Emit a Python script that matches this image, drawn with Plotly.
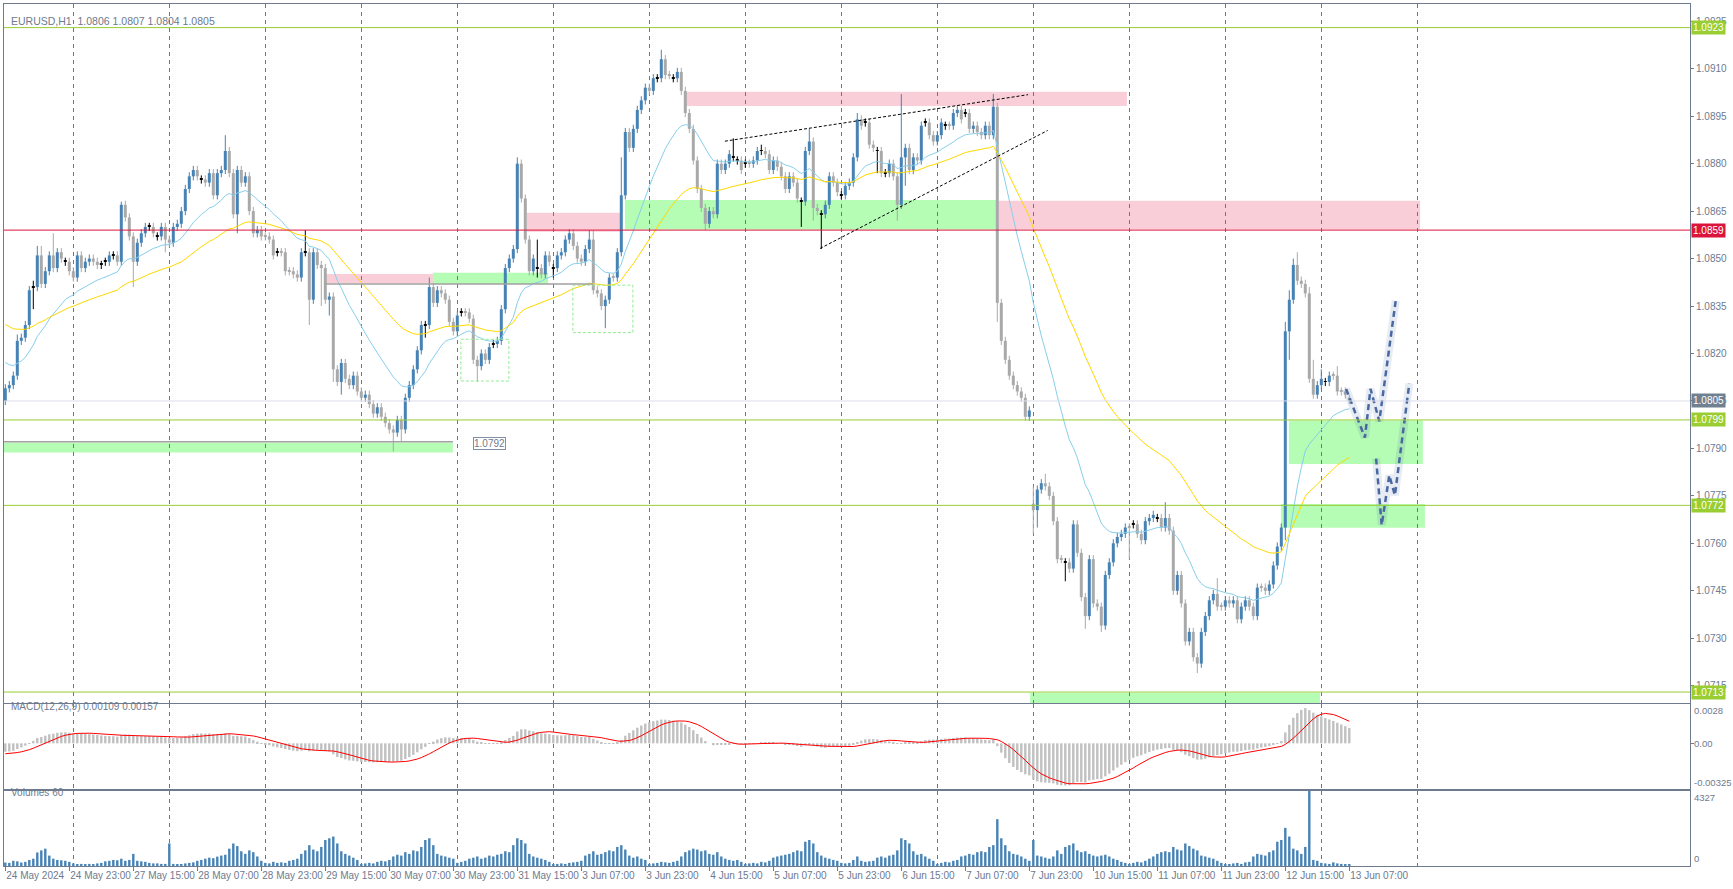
import plotly.graph_objects as go

BASE = 1.07
PIP = 0.0001

# ---------------- DATA (prices in pips above 1.0700) ----------------
close_pips = [
    109, 110, 113, 124, 125, 129, 140, 141, 151, 142,
    146, 151, 147, 152, 150, 149, 146, 144, 151, 147,
    149, 150, 149, 148, 148, 149, 151, 151, 149, 167,
    163, 157, 149, 155, 158, 160, 160, 158, 157, 160,
    156, 155, 160, 161, 165, 172, 176, 178, 176, 175,
    174, 177, 170, 177, 178, 184, 177, 164, 178, 174,
    176, 165, 158, 159, 157, 157, 156, 151, 152, 152,
    146, 146, 145, 144, 152, 152, 137, 152, 148, 147,
    137, 138, 115, 111, 117, 112, 110, 113, 108, 106,
    107, 104, 101, 103, 100, 98, 96, 95, 99, 96,
    106, 110, 115, 121, 129, 129, 141, 136, 140, 139,
    137, 130, 127, 132, 133, 133, 131, 118, 116, 120,
    118, 122, 123, 124, 134, 147, 150, 153, 180, 169,
    156, 146, 150, 147, 145, 151, 149, 147, 151, 152,
    156, 158, 154, 150, 149, 153, 156, 140, 139, 135,
    137, 144, 144, 152, 170, 190, 185, 191, 197, 200,
    204, 203, 207, 207, 213, 208, 208, 207, 209, 203,
    196, 191, 181, 172, 166, 161, 165, 164, 180, 178,
    180, 183, 182, 181, 178, 180, 180, 181, 184, 184,
    183, 178, 181, 179, 176, 172, 176, 174, 169, 168,
    184, 187, 166, 165, 164, 167, 176, 174, 171, 170,
    173, 174, 182, 194, 192, 193, 186, 185, 184, 177,
    177, 180, 176, 167, 182, 185, 178, 182, 181, 192,
    193, 189, 187, 189, 193, 192, 192, 196, 197, 194,
    196, 191, 192, 190, 189, 192, 189, 198, 136, 124,
    118, 113, 110, 108, 106, 100, 102, 70.5, 77, 79,
    78, 75, 67, 55, 55, 54, 52, 66, 57, 43,
    37, 55, 41, 40, 34, 50, 54, 60, 62, 63,
    65, 65, 66, 63, 61, 67, 68, 69, 68, 65,
    68, 64, 45, 50, 41, 29, 32, 24, 22, 32,
    37, 42, 44, 40, 40, 42, 41, 42, 36, 40,
    42, 40, 37, 46, 46, 45, 47, 53, 59, 65,
    127, 137, 148, 143, 142, 139, 112, 107, 110, 112,
    111, 113, 113, 108, 108, 107, 105,
]
open_overrides = {0: 105, 257: 72.5, 336: 106}
doji_bars = [7, 15, 24, 25, 27, 36, 38, 49, 68, 75, 105, 114, 122, 133, 137, 163,
             167, 182, 183, 185, 189, 199, 204, 209, 215, 218, 220, 230, 235, 240,
             265, 282, 288, 330]
high_overrides = {3: 126, 7: 143, 8: 154, 9: 154, 12: 158, 29: 168, 55: 189, 75: 159,
                  106: 144, 128: 182, 133: 156, 146: 159, 147: 159, 154: 182, 164: 216,
                  182: 188, 189: 186, 201: 191, 213: 196, 224: 202, 247: 202, 257: 78,
                  260: 82, 290: 73, 303: 49, 320: 130, 321: 140, 322: 150, 323: 152,
                  326: 141, 327: 118, 329: 115, 333: 116, 336: 107}
low_overrides = {7: 134, 32: 141, 40: 152, 58: 158, 76: 129, 79: 135, 81: 132, 82: 111,
                 84: 107, 97: 89, 99: 92, 105: 125, 118: 111, 133: 144, 137: 144, 150: 128,
                 175: 159, 199: 160, 202: 162, 204: 153, 218: 177, 223: 162, 225: 173,
                 248: 130, 257: 63, 258: 65, 265: 48, 270: 33, 274: 32, 281: 55, 298: 19,
                 320: 61, 321: 118, 336: 104}

volumes = [
    200, 180, 300, 270, 200, 240, 350, 420, 780, 900, 1000, 600, 420, 350, 330, 300, 240,
    150, 90, 120, 90, 120, 90, 150, 180, 270, 300, 350, 330, 420, 300, 350, 700, 300, 270, 240, 180, 150, 150, 120, 120,
    1300, 120, 90, 90, 150, 180, 210, 300, 350, 420, 480, 450, 540, 600, 650, 1000, 1300, 1150, 850, 700, 900, 800, 550, 300,
    180, 150, 240, 180, 210, 180, 300, 350, 420, 700, 900, 1200, 950, 850, 1100, 1500, 1600, 1700, 1300, 850, 700, 600, 480, 350,
    120, 150, 180, 150, 240, 300, 270, 350, 550, 650, 600, 800, 700, 900, 850, 1100, 1500, 1600, 1200, 700, 600, 550, 480, 420,
    180, 240, 300, 420, 480, 550, 420, 480, 600, 550, 650, 700, 850, 800, 1200, 1600, 1500, 1300, 700, 550, 480, 420, 350, 240,
    90, 120, 150, 120, 180, 210, 240, 300, 600, 700, 850, 650, 700, 800, 900, 850, 1100, 1200, 950, 600, 480, 550, 420, 350,
    120, 150, 180, 240, 210, 180, 240, 300, 550, 800, 900, 1000, 950, 850, 900, 700, 650, 800, 550, 420, 350, 300, 350, 240,
    120, 150, 180, 150, 240, 210, 300, 480, 550, 600, 650, 700, 800, 900, 850, 1400, 1500, 1300, 800, 600, 480, 420, 350, 300,
    180, 150, 180, 350, 550, 300, 240, 270, 300, 480, 550, 480, 600, 650, 900, 1600, 1500, 1300, 850, 650, 700, 550, 420, 300,
    120, 180, 240, 210, 300, 350, 550, 600, 700, 650, 800, 850, 800, 1100, 1200, 2700, 1600, 1200, 850, 700, 650, 550, 420, 300,
    1500, 600, 550, 480, 420, 550, 900, 700, 1100, 1200, 1300, 900, 800, 850, 700, 600, 550, 600, 650, 550, 420, 350, 240, 180,
    120, 180, 240, 210, 300, 420, 550, 700, 800, 850, 800, 1100, 950, 900, 1300, 1150, 1000, 900, 600, 550, 480, 420, 300, 180,
    120, 90, 150, 180, 120, 210, 240, 550, 700, 650, 600, 800, 900, 1400, 1500, 2200, 1700, 1000, 900, 700, 1100, 4327, 350, 300,
    180, 150, 120, 210, 150, 120, 90, 60,
]

tick_bars = list(range(0, 337, 16))
tick_labels = ["24 May 2024", "24 May 23:00", "27 May 15:00", "28 May 07:00", "28 May 23:00",
               "29 May 15:00", "30 May 07:00", "30 May 23:00", "31 May 15:00", "3 Jun 07:00",
               "3 Jun 23:00", "4 Jun 15:00", "5 Jun 07:00", "5 Jun 23:00", "6 Jun 15:00",
               "7 Jun 07:00", "7 Jun 23:00", "10 Jun 15:00", "11 Jun 07:00", "11 Jun 23:00",
               "12 Jun 15:00", "13 Jun 07:00"]
day_starts = [17, 41, 65, 89, 113, 137, 161, 185, 209, 233, 257, 281, 305, 329, 353]

# horizontal levels (price, colour)
h_levels = [(1.0923, "#9ACD32"), (1.0859, "#DC143C"), (1.0799, "#9ACD32"),
            (1.0772, "#9ACD32"), (1.0713, "#9ACD32")]
last_price = 1.0805

# zones: (bar0, bar1, pips_low, pips_high, colour)
zones = [
    (-0.4, 111.9, 88.7, 91.8, "green"),
    (79.9, 106.9, 142.2, 145.1, "pink"),
    (106.9, 135.7, 142.0, 145.5, "green"),
    (130.4, 153.9, 158.5, 164.5, "pink"),
    (154.9, 247.9, 159.2, 168.5, "green"),
    (169.9, 280.4, 198.2, 202.7, "pink"),
    (248.2, 353.7, 159.2, 168.3, "pink"),
    (320.9, 354.4, 85.1, 98.8, "green"),
    (318.9, 354.9, 64.9, 72.4, "green"),
    (256.2, 328.7, 9.4, 12.7, "green"),
]
dashed_boxes = [(113.9, 125.9, 111.3, 124.5), (141.9, 156.9, 126.6, 141.6)]
gray_segments = [(-0.4, 111.9, 92.1), (79.9, 146.9, 142.0)]
trend_lines = [(179.9, 187.1, 255.7, 201.8), (203.7, 153.2, 260.6, 190.5)]
forecast_paths = [
    [(335.2, 108.8), (339.9, 93.4), (341.3, 108.8), (343.5, 98.6), (347.6, 136.7)],
    [(342.7, 86.8), (344.1, 65.8), (346.0, 81.5), (347.4, 75.2), (351.0, 110.5)],
]
ma_fast_start, ma_slow_start = 118, 130      # EMA values at the left edge (pips)
macd_fast_start, macd_slow_start = 114, 120
signal_start = -0.00076

# ---------------- derived series ----------------
n = len(close_pips)
doji = set(doji_bars)
closes = [BASE + p * PIP for p in close_pips]
opens = []
for i in range(n):
    if i in doji:
        o = close_pips[i]
    elif i in open_overrides:
        o = open_overrides[i]
    else:
        o = close_pips[i - 1]
    opens.append(o)
highs, lows = [], []
for i in range(n):
    top = max(opens[i], close_pips[i])
    bot = min(opens[i], close_pips[i])
    h = max(high_overrides.get(i, top + 1.3), top)
    l = min(low_overrides.get(i, bot - 1.3), bot)
    highs.append(BASE + h * PIP)
    lows.append(BASE + l * PIP)
opens_p = [BASE + o * PIP for o in opens]


def ema(vals, period, start):
    k = 2.0 / (period + 1)
    e = start
    out = []
    for v in vals:
        e = e + k * (v - e)
        out.append(e)
    return out


ma_fast = ema(closes, 20, BASE + ma_fast_start * PIP)
ma_slow = ema(closes, 50, BASE + ma_slow_start * PIP)
e12 = ema(closes, 12, BASE + macd_fast_start * PIP)
e26 = ema(closes, 26, BASE + macd_slow_start * PIP)
macd = [a - b for a, b in zip(e12, e26)]
hist = [signal_start] * 8 + macd
signal = [sum(hist[i:i + 9]) / 9 for i in range(n)]

UP, DOWN, DOJI = "#4682B4", "#A9A9A9", "#000000"
colors = [DOJI if i in doji else (UP if close_pips[i] > opens[i] else DOWN) for i in range(n)]

fig = go.Figure()

zone_col = {"green": "rgba(152,251,152,0.72)", "pink": "rgba(248,187,201,0.72)"}
for b0, b1, lo, hi, c in zones:
    fig.add_shape(type="rect", xref="x", yref="y", x0=b0, x1=b1, y0=BASE + lo * PIP,
                  y1=BASE + hi * PIP, fillcolor=zone_col[c], line_width=0, layer="below")
for b0, b1, lo, hi in dashed_boxes:
    fig.add_shape(type="rect", xref="x", yref="y", x0=b0, x1=b1, y0=BASE + lo * PIP,
                  y1=BASE + hi * PIP, fillcolor="rgba(0,0,0,0)",
                  line=dict(color="#90EE90", width=1, dash="3px,2px"))
for b0, b1, p in gray_segments:
    fig.add_shape(type="line", xref="x", yref="y", x0=b0, x1=b1, y0=BASE + p * PIP,
                  y1=BASE + p * PIP, line=dict(color="#A0A0A0", width=1.5))
fig.add_shape(type="line", xref="paper", yref="y", x0=0, x1=1, y0=last_price, y1=last_price,
              line=dict(color="#DCDCEC", width=1))
for p, c in h_levels:
    fig.add_shape(type="line", xref="paper", yref="y", x0=0, x1=1, y0=p, y1=p,
                  line=dict(color=c, width=1))
for b0, p0, b1, p1 in trend_lines:
    fig.add_shape(type="line", xref="x", yref="y", x0=b0, x1=b1, y0=BASE + p0 * PIP,
                  y1=BASE + p1 * PIP, line=dict(color="#000000", width=1, dash="3px,2px"))

for col in (UP, DOWN, DOJI):
    wx, wy = [], []
    for i in range(n):
        if colors[i] == col:
            wx += [i, i, None]
            wy += [lows[i], highs[i], None]
    fig.add_trace(go.Scatter(x=wx, y=wy, mode="lines", line=dict(color=col, width=1),
                             hoverinfo="skip", xaxis="x", yaxis="y"))
body_base = [min(o, c) for o, c in zip(opens_p, closes)]
body_h = [max(abs(c - o), 0.3 * PIP) for o, c in zip(opens_p, closes)]
fig.add_trace(go.Bar(x=list(range(n)), y=body_h, base=body_base, width=0.75,
                     marker=dict(color=colors, line_width=0), xaxis="x", yaxis="y"))
fig.add_trace(go.Scatter(x=list(range(n)), y=ma_fast, mode="lines",
                         line=dict(color="#87CEEB", width=1), xaxis="x", yaxis="y"))
fig.add_trace(go.Scatter(x=list(range(n)), y=ma_slow, mode="lines",
                         line=dict(color="#FFD700", width=1), xaxis="x", yaxis="y"))
for path in forecast_paths:
    px = [b for b, _ in path]
    py = [BASE + p * PIP for _, p in path]
    fig.add_trace(go.Scatter(x=px, y=py, mode="lines", line=dict(color="rgba(70,100,160,0.13)", width=8),
                             xaxis="x", yaxis="y", hoverinfo="skip"))
    fig.add_trace(go.Scatter(x=px, y=py, mode="lines", line=dict(color="#4A68A0", width=2.5, dash="6px,4px"),
                             xaxis="x", yaxis="y", hoverinfo="skip"))

fig.add_trace(go.Bar(x=list(range(n)), y=macd, width=0.6, marker=dict(color="#C0C0C0", line_width=0),
                     xaxis="x2", yaxis="y2"))
fig.add_trace(go.Scatter(x=list(range(n)), y=signal, mode="lines", line=dict(color="#FF0000", width=1),
                         xaxis="x2", yaxis="y2"))
fig.add_trace(go.Bar(x=list(range(n)), y=volumes, width=0.6, marker=dict(color=UP, line_width=0),
                     xaxis="x3", yaxis="y3"))

FONT = "Liberation Sans"
AX = "#6E7A8E"
XR = [-0.325, 421.175]
common_x = dict(range=XR, showgrid=False, zeroline=False, showline=True, mirror=True,
                linecolor=AX, linewidth=1, automargin=False,
                minor=dict(tickvals=day_starts, showgrid=True, gridcolor="#6E7583",
                           griddash="4px,4px", gridwidth=1, ticklen=0))
price_ticks = [round(1.0925 - 0.0015 * k, 4) for k in range(15)]

fig.update_layout(
    width=1733, height=889, margin=dict(l=4, r=43, t=4, b=23, autoexpand=False),
    paper_bgcolor="white", plot_bgcolor="white", showlegend=False, barmode="overlay",
    font=dict(family=FONT, size=10, color=AX),
    xaxis=dict(**common_x, domain=[0, 1], anchor="y", showticklabels=False, ticks=""),
    xaxis2=dict(**common_x, domain=[0, 1], anchor="y2", matches="x", showticklabels=False, ticks=""),
    xaxis3=dict(**common_x, domain=[0, 1], anchor="y3", matches="x", tickvals=tick_bars,
                ticktext=tick_labels, ticks="outside", ticklen=4, tickcolor=AX, tickangle=0,
                ticklabelposition="outside right", tickfont=dict(size=10, color=AX)),
    yaxis=dict(domain=[0.18910, 1.0], range=[1.070954, 1.093046], side="right",
               tickvals=price_ticks, ticktext=[f"{v:.4f}" for v in price_ticks],
               ticks="outside", ticklen=3, tickcolor=AX, showgrid=False, zeroline=False,
               showline=True, mirror=True, linecolor=AX, anchor="x", automargin=False,
               tickfont=dict(size=10, color=AX)),
    yaxis2=dict(domain=[0.08933, 0.18794], range=[-0.00325, 0.0028], side="right",
                tickvals=[0], ticktext=[""], ticks="outside", ticklen=3, tickcolor=AX, automargin=False,
                showgrid=False, zeroline=False, showline=True, mirror=True, linecolor=AX, anchor="x2"),
    yaxis3=dict(domain=[0, 0.08701], range=[0, 4327], side="right", tickvals=[], automargin=False,
                showgrid=False, zeroline=False, showline=True, mirror=True, linecolor=AX, anchor="x3"),
)

ann = []
for txt, yv, yr, ys in [("0.0028", 0.0028, "y2", -7), ("0.00", 0.0, "y2", 0), ("-0.00325", -0.00325, "y2", 6),
                        ("4327", 4327, "y3", -7), ("0", 0, "y3", 7)]:
    ann.append(dict(x=1, xref="paper", y=yv, yref=yr, yshift=ys, text=txt, showarrow=False,
                    xanchor="left", xshift=2, font=dict(size=9.5, color=AX)))
tags = [(1.0923, "#9ACD32"), (1.0859, "#DC143C"), (last_price, "#708090"), (1.0799, "#9ACD32"),
        (1.0772, "#9ACD32"), (1.0713, "#9ACD32")]
for p, c in tags:
    ann.append(dict(x=1, xref="paper", y=p, yref="y", text=f"{p:.4f}", showarrow=False,
                    xanchor="left", xshift=1, bgcolor=c, borderpad=1,
                    font=dict(size=10, color="white")))
ann.append(dict(x=116.9, xref="x", y=1.07917, yref="y", text="1.0792", showarrow=False,
                xanchor="left", bgcolor="white", bordercolor="#8090A8", borderwidth=1, borderpad=0,
                font=dict(size=10, color=AX)))
ann.append(dict(x=0.003, xref="paper", y=0.9896, yref="paper", xanchor="left", showarrow=False,
                text="EURUSD,H1  1.0806 1.0807 1.0804 1.0805", font=dict(size=10.5, color=AX)))
ann.append(dict(x=0.003, xref="paper", y=0.1763, yref="paper", xanchor="left", showarrow=False,
                text="MACD(12,26,9) 0.00109 0.00157", font=dict(size=10, color=AX)))
ann.append(dict(x=0.003, xref="paper", y=0.0766, yref="paper", xanchor="left", showarrow=False,
                text="Volumes 60", font=dict(size=10, color=AX)))
fig.update_layout(annotations=ann)

fig.write_html("out.html", include_plotlyjs=True, config={"displayModeBar": False},
               post_script="document.body.style.margin='0';document.body.style.overflow='hidden';")
